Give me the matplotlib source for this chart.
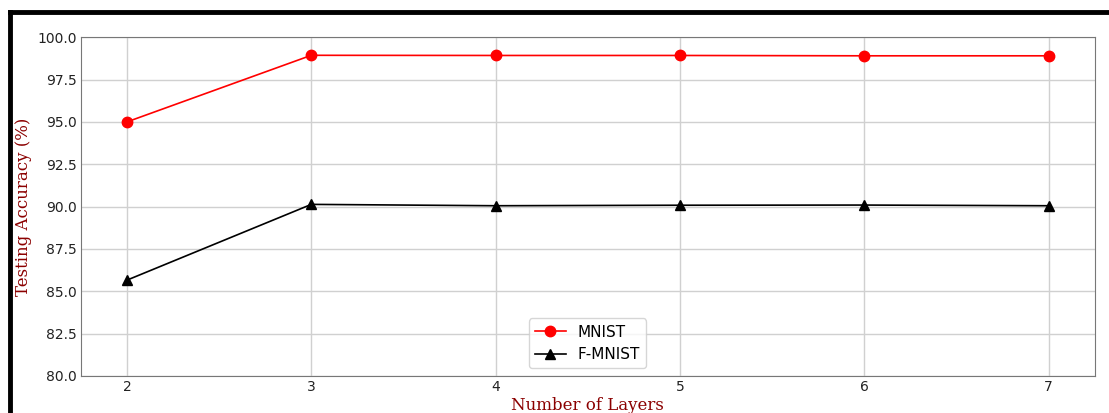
import matplotlib.pyplot as plt
from matplotlib.lines import Line2D

layers = [2, 3, 4, 5, 6, 7]
mnist_acc = [95.0, 98.93, 98.92, 98.92, 98.9, 98.9]
fmnist_acc = [85.66, 90.13, 90.05, 90.08, 90.09, 90.05]

fig = plt.figure(figsize=(11.09, 4.13), dpi=100)
ax = fig.add_axes([0.073, 0.0896, 0.914, 0.8204])

ax.plot(layers, mnist_acc, color='red', marker='o', markersize=7.5, linewidth=1.2, label='MNIST')
ax.plot(layers, fmnist_acc, color='black', marker='^', markersize=7.5, linewidth=1.2, label='F-MNIST')

ax.set_ylim(80, 100)
ax.set_xlim(1.75, 7.25)
ax.set_yticks([80, 82.5, 85, 87.5, 90, 92.5, 95, 97.5, 100])
ax.yaxis.set_major_formatter(plt.FormatStrFormatter('%.1f'))
ax.tick_params(labelsize=10, colors='#222222', length=0, pad=3)
ax.grid(True, color='#d0d0d0', linewidth=1)
for sp in ax.spines.values():
    sp.set_color('#777777')

ax.set_xlabel('Number of Layers', family='DejaVu Serif', color='#8b0000', fontsize=12, labelpad=2)
ax.set_ylabel('Testing Accuracy (%)', family='DejaVu Serif', color='#8b0000', fontsize=12, labelpad=4)

ax.legend(loc='lower center', fontsize=11, borderaxespad=0.5)

# black frame on top and left edges
fig.add_artist(Line2D([0.009, 1.0], [0.97, 0.97], color='black', linewidth=3.5, transform=fig.transFigure))
fig.add_artist(Line2D([0.009, 0.009], [0.0, 0.97], color='black', linewidth=3.5, transform=fig.transFigure))

fig.savefig('out.png', dpi=100)
